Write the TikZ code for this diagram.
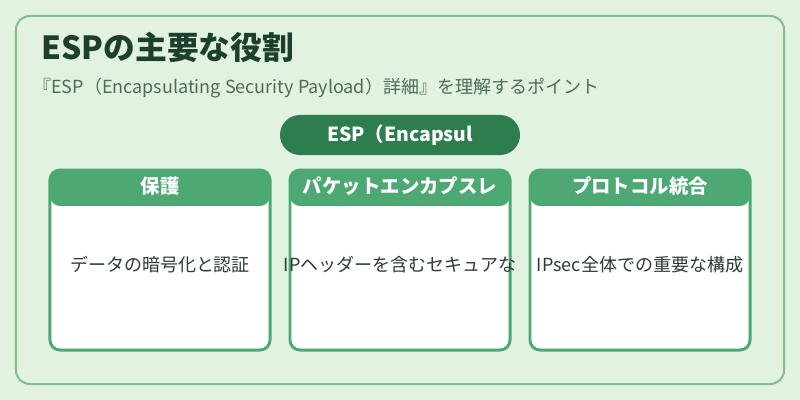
\documentclass[tikz,border=0pt]{standalone}
\usepackage{fontspec}
\setmainfont{Noto Sans CJK JP}
\usetikzlibrary{positioning}
\definecolor{bggreen}{HTML}{E1F2E1}
\definecolor{framegreen}{HTML}{80BE8E}
\definecolor{titlegreen}{HTML}{1D3F2E}
\definecolor{subgray}{HTML}{4E6B5A}
\definecolor{pillgreen}{HTML}{2E7D4F}
\definecolor{cardgreen}{HTML}{4EA873}
\definecolor{bodytext}{HTML}{2C3B33}
\tikzset{
  frame/.style={rectangle, rounded corners=0.35cm, minimum width=19.2cm,
    minimum height=9.2cm, draw=framegreen, line width=1.4pt, fill=bggreen},
  titletext/.style={font=\fontsize{22.6}{26}\selectfont\bfseries, text=titlegreen,
    inner sep=0pt},
  subtext/.style={font=\fontsize{12.8}{15}\selectfont, text=subgray, inner sep=0pt},
  pill/.style={rectangle, rounded corners=0.5cm, minimum width=6cm,
    minimum height=1cm, fill=pillgreen, text=white,
    font=\fontsize{13.8}{16}\selectfont\bfseries},
  card/.style={rectangle, rounded corners=0.25cm, minimum width=5.5cm,
    minimum height=4.5cm, draw=cardgreen, line width=2.1pt, fill=white,
    path picture={\fill[cardgreen] (path picture bounding box.north west)
      rectangle ([yshift=-0.9cm]path picture bounding box.north east);}},
  cardhead/.style={text=white, font=\fontsize{13.8}{16}\selectfont\bfseries,
    inner sep=0pt},
  cardbody/.style={text=bodytext, font=\fontsize{12.8}{15}\selectfont,
    inner sep=0pt}
}
\begin{document}
\begin{tikzpicture}[x=0.025cm, y=-0.025cm]
\useasboundingbox[fill=bggreen] (0,0) rectangle (800,400);
\node (frame) [frame] at (400,200) {};

\node (title) [titletext, anchor=west] at (41,47) {ESPの主要な役割};
\node (sub)   [subtext, anchor=west]   at (33,88)
      {『ESP（Encapsulating Security Payload）詳細』を理解するポイント};

\node (pill) [pill] at (400,135) {ESP（Encapsul};

% three cards
\node (prot)  [card] at (160,260) {};
\node (encap) [card] at (400,260) {};
\node (integ) [card] at (640,260) {};

\node (prothd)  [cardhead] at ([yshift=-0.45cm]prot.north)  {保護};
\node (encaphd) [cardhead] at ([yshift=-0.45cm]encap.north) {パケットエンカプスレ};
\node (integhd) [cardhead] at ([yshift=-0.45cm]integ.north) {プロトコル統合};

\node (protbd)  [cardbody] at ([yshift=-0.12cm]prot.center)  {データの暗号化と認証};
\node (encapbd) [cardbody] at ([yshift=-0.12cm]encap.center) {IPヘッダーを含むセキュアな};
\node (integbd) [cardbody] at ([yshift=-0.12cm]integ.center) {IPsec全体での重要な構成};
\end{tikzpicture}
\end{document}
